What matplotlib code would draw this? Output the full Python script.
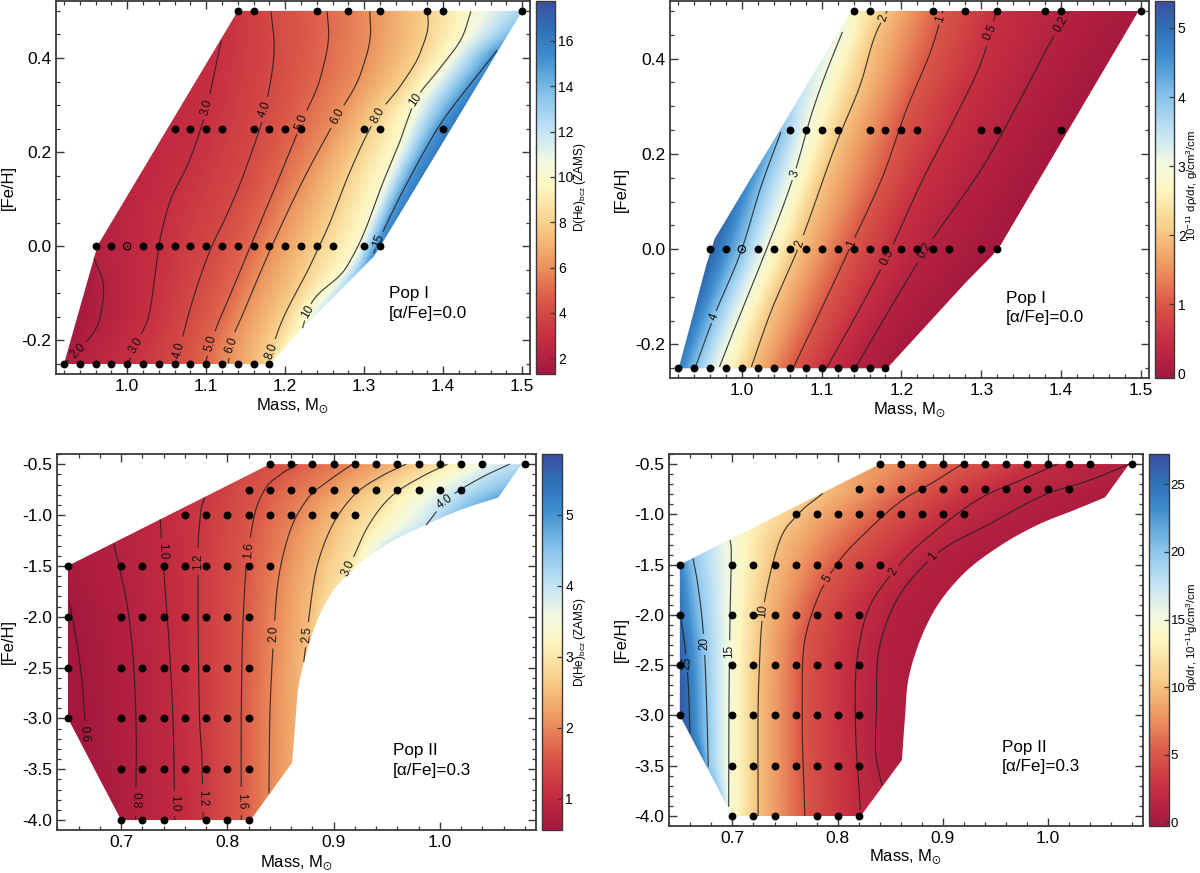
import numpy as np
import matplotlib
matplotlib.use("Agg")
import matplotlib.pyplot as plt
from matplotlib.colors import LinearSegmentedColormap, Normalize
from matplotlib.cm import ScalarMappable
from matplotlib.patches import Polygon
from matplotlib.ticker import MultipleLocator, FormatStrFormatter

plt.rcParams['font.family'] = ['Liberation Sans', 'DejaVu Sans']
plt.rcParams['mathtext.fontset'] = 'custom'
plt.rcParams['mathtext.rm'] = 'Liberation Sans'
plt.rcParams['mathtext.it'] = 'Liberation Sans:italic'
plt.rcParams['mathtext.bf'] = 'Liberation Sans:bold'
plt.rcParams['mathtext.fallback'] = 'stix'
plt.rcParams['axes.unicode_minus'] = False

W, H = 1200, 873

# ---------- sample grids (mass by [Fe/H]) ----------
POP1_GRID = {
    0.5: [1.14, 1.16, 1.24, 1.28, 1.32, 1.38, 1.40, 1.50],
    0.25: [1.06, 1.08, 1.10, 1.12, 1.16, 1.18, 1.20, 1.22, 1.30, 1.32, 1.40],
    0.0: [0.96, 0.98, 1.02, 1.04, 1.06, 1.08, 1.10, 1.12, 1.14, 1.16, 1.18, 1.20, 1.22, 1.24, 1.26, 1.30, 1.32],
    -0.25: [0.92, 0.94, 0.96, 0.98, 1.00, 1.02, 1.04, 1.06, 1.08, 1.10, 1.12, 1.14, 1.16, 1.18],
}
POP1_SUN = (1.0, 0.0)
POP2_MID = [0.70, 0.72, 0.74, 0.76, 0.78, 0.80, 0.82]
POP2_GRID = {
    -0.5: [0.84, 0.86, 0.88, 0.90, 0.92, 0.94, 0.96, 0.98, 1.00, 1.02, 1.04, 1.08],
    -0.75: [0.82, 0.84, 0.86, 0.88, 0.90, 0.92, 0.94, 0.96, 0.98, 1.00, 1.02],
    -1.0: [0.76, 0.78, 0.80, 0.82, 0.84, 0.86, 0.88, 0.90, 0.92],
    -1.5: [0.65] + POP2_MID + [0.84],
    -2.0: [0.65] + POP2_MID,
    -2.5: [0.65] + POP2_MID,
    -3.0: [0.65] + POP2_MID,
    -3.5: POP2_MID,
    -4.0: [0.70, 0.72, 0.74, 0.78, 0.80, 0.82],
}

# ---------- model domain outlines ----------
TL_EDGE_M = [0.920, 0.958, 0.963, 1.140, 1.500, 1.3215, 1.312, 1.222, 1.181]
TL_EDGE_F = [-0.25, -0.025, 0.003, 0.5, 0.5, 0.003, -0.022, -0.174, -0.25]
TR_EDGE_M = [0.921, 0.956, 0.966, 1.137, 1.497, 1.324, 1.314, 1.281, 1.182]
TR_EDGE_F = [-0.25, -0.03, 0.022, 0.5, 0.5, 0.008, -0.013, -0.069, -0.25]
BL_EDGE_M = [0.65, 0.65, 0.70, 0.822, 0.861, 0.864, 0.867, 0.8745, 0.885, 0.90, 0.918, 0.947, 0.986, 1.019, 1.055, 1.077, 0.84]
BL_EDGE_F = [-1.5, -3.0, -4.0, -4.0, -3.437, -3.05, -2.69, -2.36, -2.03, -1.74, -1.54, -1.31, -1.10, -0.952, -0.828, -0.5, -0.5]
BR_EDGE_M = [0.65, 0.65, 0.70, 0.822, 0.861, 0.864, 0.867, 0.876, 0.894, 0.92, 0.953, 0.993, 1.025, 1.054, 1.077, 0.84]
BR_EDGE_F = [-1.5, -3.0, -4.0, -4.0, -3.443, -3.012, -2.648, -2.316, -1.919, -1.587, -1.322, -1.09, -0.957, -0.831, -0.5, -0.5]

# ---------- contour curves: level -> (mass, [Fe/H]) ----------
TL_LINES = {
    2.0: ([0.958, 0.970, 0.966, 0.943, 0.921], [-0.025, -0.085, -0.149, -0.213, -0.248]),
    3.0: ([1.119, 1.111, 1.100, 1.079, 1.052, 1.040, 1.035, 1.026, 1.016, 1.001],
          [0.437, 0.374, 0.289, 0.183, 0.084, 0.0, -0.064, -0.156, -0.192, -0.248]),
    4.0: ([1.182, 1.186, 1.176, 1.154, 1.127, 1.107, 1.083, 1.067, 1.062],
          [0.499, 0.430, 0.303, 0.183, 0.070, 0.0, -0.114, -0.213, -0.248]),
    5.0: ([1.253, 1.255, 1.246, 1.222, 1.198, 1.156, 1.133, 1.106, 1.099],
          [0.499, 0.452, 0.367, 0.268, 0.169, 0.0, -0.093, -0.206, -0.248]),
    6.0: ([1.307, 1.308, 1.297, 1.266, 1.227, 1.183, 1.149, 1.132, 1.128],
          [0.499, 0.452, 0.374, 0.276, 0.155, 0.0, -0.134, -0.206, -0.248]),
    8.0: ([1.380, 1.381, 1.372, 1.348, 1.317, 1.281, 1.258, 1.233, 1.190, 1.178],
          [0.499, 0.473, 0.416, 0.346, 0.278, 0.155, 0.056, -0.036, -0.184, -0.248]),
    10.0: ([1.435, 1.426, 1.397, 1.365, 1.3445, 1.326, 1.292, 1.278, 1.228, 1.222],
           [0.499, 0.452, 0.381, 0.310, 0.220, 0.145, 0.0, -0.043, -0.139, -0.174]),
    15.0: ([1.468, 1.435, 1.397, 1.363, 1.343, 1.319, 1.312],
           [0.416, 0.346, 0.261, 0.162, 0.098, 0.013, -0.015]),
}
TR_LINES = {
    4.0: ([1.049, 1.024, 1.0, 0.965, 0.942], [0.246, 0.131, 0.0, -0.142, -0.247]),
    3.0: ([1.126, 1.110, 1.089, 1.066, 1.031, 1.0, 0.972], [0.456, 0.39, 0.292, 0.159, 0.0, -0.128, -0.247]),
    2.0: ([1.182, 1.168, 1.149, 1.12, 1.073, 1.034, 1.012], [0.5, 0.453, 0.348, 0.229, 0.012, -0.142, -0.247]),
    1.0: ([1.252, 1.24, 1.206, 1.178, 1.138, 1.101, 1.065], [0.5, 0.432, 0.292, 0.159, 0.012, -0.121, -0.247]),
    0.5: ([1.319, 1.302, 1.269, 1.226, 1.182, 1.149, 1.106], [0.5, 0.402, 0.283, 0.144, -0.016, -0.121, -0.25]),
    0.2: ([1.41, 1.393, 1.355, 1.307, 1.23, 1.192, 1.142], [0.498, 0.453, 0.334, 0.187, -0.002, -0.107, -0.25]),
}
BL_LINES = {
    0.6: ([0.651, 0.6546, 0.66, 0.6647, 0.666, 0.6635], [-1.847, -2.034, -2.362, -2.82, -3.083, -3.214]),
    0.8: ([0.6931, 0.6996, 0.7069, 0.7123, 0.7141, 0.7137], [-1.28, -1.575, -1.968, -2.558, -3.05, -4.0]),
    1.0: ([0.7368, 0.7382, 0.7404, 0.7465, 0.749, 0.7505], [-1.04, -1.247, -1.575, -2.493, -3.05, -4.0]),
    1.2: ([0.7786, 0.7743, 0.7725, 0.7725, 0.7736, 0.7765, 0.7772], [-0.828, -1.05, -1.378, -2.0, -2.886, -3.54, -4.0]),
    1.6: ([0.8662, 0.8493, 0.8349, 0.8259, 0.8204, 0.8179, 0.815, 0.8132, 0.8132],
          [-0.5, -0.608, -0.756, -0.985, -1.313, -1.51, -2.0, -2.886, -4.0]),
    2.0: ([0.9178, 0.8962, 0.8745, 0.8583, 0.8475, 0.8439, 0.8403, 0.8392],
          [-0.5, -0.657, -0.854, -1.18, -1.673, -2.165, -2.886, -3.738]),
    2.5: ([0.9683, 0.9467, 0.9178, 0.8998, 0.8836, 0.8781, 0.8745, 0.872],
          [-0.5, -0.608, -0.821, -1.083, -1.542, -1.903, -2.23, -2.444]),
    3.0: ([1.0072, 0.9827, 0.9539, 0.9322, 0.9196, 0.9106], [-0.5, -0.625, -0.821, -1.116, -1.395, -1.59]),
    4.0: ([1.0657, 1.0404, 1.008, 0.987], [-0.5, -0.625, -0.838, -1.1]),
}
BR_LINES = {
    25.0: ([0.6512, 0.6549, 0.6578, 0.6596], [-2.05, -2.316, -2.648, -3.178]),
    20.0: ([0.6625, 0.6669, 0.673, 0.676, 0.677], [-1.438, -1.687, -2.283, -3.079, -3.51]),
    15.0: ([0.6978, 0.6989, 0.6978, 0.6967, 0.6964], [-1.256, -1.388, -1.985, -2.913, -3.907]),
    10.0: ([0.7859, 0.7633, 0.7451, 0.736, 0.7288, 0.7251, 0.7244], [-0.792, -0.99, -1.256, -1.587, -1.985, -2.648, -4.0]),
    5.0: ([0.9181, 0.8944, 0.8616, 0.8289, 0.7997, 0.7815, 0.7688, 0.7663, 0.7688],
          [-0.5, -0.659, -0.858, -1.156, -1.488, -1.819, -2.25, -2.913, -4.0]),
    2.0: ([1.0091, 0.9745, 0.9381, 0.9017, 0.8544, 0.8289, 0.8187, 0.8169, 0.8216],
          [-0.5, -0.659, -0.825, -1.09, -1.554, -1.952, -2.416, -3.079, -3.94]),
    1.0: ([1.0771, 1.04, 1.0, 0.9454, 0.8908, 0.8544, 0.8398, 0.8369, 0.8369, 0.842],
          [-0.5, -0.659, -0.792, -1.09, -1.421, -1.885, -2.316, -2.913, -3.443, -3.692]),
}

# ---------- colour-only estimates outside the drawn lines ----------
TL_EXTRA = {
    1.35: ([0.905, 0.925, 0.945, 0.945], [-0.25, -0.15, -0.03, 0.5]),
    10.0: ([1.19], [-0.25]),
    15.0: ([1.55, 1.29, 1.24], [0.5, -0.1, -0.25]),
    17.5: ([1.31, 1.345, 1.43, 1.49, 1.60], [-0.25, 0.0, 0.25, 0.4, 0.5]),
}
TR_EXTRA = {
    5.35: ([0.905, 0.955, 1.01, 1.06], [-0.25, 0.0, 0.25, 0.5]),
    -0.05: ([1.2, 1.33, 1.42, 1.52], [-0.25, 0.0, 0.25, 0.5]),
}
BL_EXTRA = {
    0.55: ([0.60, 0.645, 0.67], [-1.5, -3.0, -4.0]),
    0.6: ([0.625, 0.68], [-1.5, -4.0]),
    2.0: ([0.838], [-4.0]),
    2.5: ([0.875, 0.872], [-3.0, -4.0]),
    3.0: ([0.895, 0.89, 0.88], [-2.0, -3.0, -4.0]),
    4.0: ([0.95, 0.92], [-1.3, -4.0]),
    5.5: ([1.2, 1.09, 1.03, 1.0], [-0.5, -0.83, -1.1, -4.0]),
}
BR_EXTRA = {
    27.2: ([0.64, 0.647, 0.665, 0.685], [-1.5, -3.0, -3.5, -4.0]),
    25.0: ([0.645, 0.69], [-1.5, -4.0]),
    20.0: ([0.695], [-4.0]),
    2.0: ([0.825], [-4.0]),
    1.0: ([0.85], [-4.0]),
    0.0: ([1.12, 1.10, 1.0, 0.93, 0.90, 0.88], [-0.5, -0.83, -1.3, -2.0, -3.0, -4.0]),
}

# ---------- inline contour labels: (text, level, mass, [Fe/H], rotation) ----------
TL_LABELS = [
    ('2.0', 2.0, 0.937, -0.221, 45), ('3.0', 3.0, 1.099, 0.296, 75), ('3.0', 3.0, 1.014, -0.214, 60),
    ('4.0', 4.0, 1.172, 0.293, 70), ('4.0', 4.0, 1.066, -0.22, 75), ('5.0', 5.0, 1.221, 0.264, 70),
    ('5.0', 5.0, 1.106, -0.206, 75), ('6.0', 6.0, 1.266, 0.276, 62), ('6.0', 6.0, 1.133, -0.211, 70),
    ('8.0', 8.0, 1.317, 0.277, 60), ('8.0', 8.0, 1.175, -0.22, 70), ('10', 10.0, 1.365, 0.31, 55),
    ('10', 10.0, 1.228, -0.139, 60), ('15', 15.0, 1.315, 0.015, 70),
]
TR_LABELS = [
    ('2', 2.0, 1.177, 0.486, 72), ('1', 1.0, 1.249, 0.483, 72), ('0.5', 0.5, 1.31, 0.454, 65),
    ('0.2', 0.2, 1.401, 0.47, 60), ('3', 3.0, 1.066, 0.157, 68), ('4', 4.0, 0.965, -0.143, 68),
    ('2', 2.0, 1.073, 0.012, 70), ('1', 1.0, 1.138, 0.015, 68), ('0.5', 0.5, 1.182, -0.016, 65),
    ('0.2', 0.2, 1.229, -0.001, 60),
]
BL_LABELS = [
    ('0.6', 0.6, 0.6647, -3.148, -85), ('0.8', 0.8, 0.7141, -3.814, -90), ('1.0', 1.0, 0.7393, -1.362, -88),
    ('1.0', 1.0, 0.7508, -3.853, -88), ('1.2', 1.2, 0.771, -1.467, 90), ('1.2', 1.2, 0.7772, -3.787, -88),
    ('1.6', 1.6, 0.8204, -1.355, 85), ('1.6', 1.6, 0.814, -3.82, -88), ('2.0', 2.0, 0.8446, -2.158, 88),
    ('2.5', 2.5, 0.8745, -2.175, 85), ('3.0', 3.0, 0.9149, -1.532, 65), ('4.0', 4.0, 1.0062, -0.877, 35),
]
BR_LABELS = [
    ('25', 25.0, 0.657, -2.489, 85), ('20', 20.0, 0.6734, -2.277, 90), ('15', 15.0, 0.6971, -2.35, 90),
    ('10', 10.0, 0.7298, -1.968, 85), ('5', 5.0, 0.7888, -1.637, 60), ('2', 2.0, 0.8522, -1.571, 60),
    ('1', 1.0, 0.8918, -1.431, 50),
]

# ---------- colours ----------
CMAP_POS = [0, .1, .2, .3, .4, .5, .57, .65, .75, .85, .93, 1]
CMAP_HEX = ['#a5173e', '#c62f42', '#dc5a48', '#ee9a62', '#f8cf8b', '#fef6c0',
            '#f2f9e2', '#c4e4f5', '#86c2ea', '#3f8ecf', '#2f6fb5', '#3c4f9f']
CMAP = LinearSegmentedColormap.from_list('he', list(zip(CMAP_POS, CMAP_HEX)))
DARK = '#3a3a3a'


def px_axes(fig, left, top, right, bottom):
    return fig.add_axes([left / W, 1 - bottom / H, (right - left) / W, (bottom - top) / H])


def build_field(lines, extra, mg, fg, ascending):
    curves = {}
    for lev, (m, f) in lines.items():
        curves[lev] = (list(m), list(f))
    for lev, (m, f) in extra.items():
        if lev in curves:
            curves[lev] = (curves[lev][0] + list(m), curves[lev][1] + list(f))
        else:
            curves[lev] = (list(m), list(f))
    levs = sorted(curves, reverse=not ascending)
    rows = []
    for lev in levs:
        m, f = np.array(curves[lev][0], float), np.array(curves[lev][1], float)
        o = np.argsort(f)
        rows.append(np.interp(fg, f[o], m[o]))
    rows = np.maximum.accumulate(np.array(rows), axis=0)
    rows += 1e-6 * np.arange(len(levs))[:, None]
    z = np.empty((len(fg), len(mg)))
    for i in range(len(fg)):
        z[i] = np.interp(mg, rows[:, i], levs)
    # soften the row-wise interpolation so colour bands stay smooth in [Fe/H]
    k = np.hanning(31)
    k /= k.sum()
    pad = len(k) // 2
    zp = np.pad(z, ((pad, pad), (0, 0)), mode='edge')
    return np.apply_along_axis(lambda c: np.convolve(c, k, mode='valid'), 0, zp)


def smooth(m, f, n=24):
    p = np.column_stack([m, f]).astype(float)
    if len(p) < 3:
        return p[:, 0], p[:, 1]
    scale = np.ptp(p, axis=0) + 1e-9
    t = np.r_[0, np.cumsum(np.hypot(*(np.diff(p, axis=0) / scale).T))]
    d = np.gradient(p, t, axis=0)
    out = []
    for i in range(len(p) - 1):
        u = np.linspace(0, 1, n, endpoint=False)[:, None]
        h = t[i + 1] - t[i]
        out.append((2*u**3 - 3*u**2 + 1) * p[i] + (u**3 - 2*u**2 + u) * h * d[i]
                   + (-2*u**3 + 3*u**2) * p[i + 1] + (u**3 - u**2) * h * d[i + 1])
    out.append(p[-1:])
    s = np.vstack(out)
    return s[:, 0], s[:, 1]


def panel(fig, box, cbox, xlim, ylim, yminor, edge, curved, lines, extra, labels,
          grid, sun, ascending, vlim, cticks, xticks, yticks, ylabel_x, xlabel_y, cb_label, cb_xy, text_xy,
          text_lines, cb_tick=(10, 2.5), cb_font=8.5):
    ax = px_axes(fig, *box)
    ax.set_xlim(*xlim)
    ax.set_ylim(*ylim)
    mg = np.linspace(xlim[0], xlim[1], 900)
    fg = np.linspace(ylim[0], ylim[1], 700)
    z = build_field(lines, extra, mg, fg, ascending)
    norm = Normalize(*vlim)
    im = ax.imshow(z, origin='lower', extent=[xlim[0], xlim[1], ylim[0], ylim[1]], aspect='auto',
                   cmap=CMAP, norm=norm, interpolation='bilinear', zorder=1)
    em, ef = list(edge[0]), list(edge[1])
    if curved is not None:
        a, b = curved
        sm, sf = smooth(em[a:b], ef[a:b])
        em = em[:a] + list(sm) + em[b:]
        ef = ef[:a] + list(sf) + ef[b:]
    im.set_clip_path(Polygon(np.column_stack([em, ef]), closed=True, transform=ax.transData))

    by_level = {}
    for t, lev, lm, lf, rot in labels:
        by_level.setdefault(lev, []).append((t, lm, lf, rot))
    for lev, (m, f) in lines.items():
        sm, sf = smooth(m, f)
        xy = ax.transData.transform(np.column_stack([sm, sf]))
        keep = np.ones(len(sm), bool)
        for t, lm, lf, rot in by_level.get(lev, []):
            c = ax.transData.transform((lm, lf))
            i = np.argmin(np.hypot(*(xy - c).T))
            gap = 3.6 * len(t) + 1.5
            keep &= np.hypot(*(xy - xy[i]).T) > gap
            ax.text(sm[i], sf[i], t, fontsize=8.5, rotation=rot, rotation_mode='anchor', ha='center',
                    va='center', color='#111111', zorder=4, clip_on=True)
        ax.plot(np.where(keep, sm, np.nan), np.where(keep, sf, np.nan), color='#222222', lw=0.85,
                alpha=0.85, zorder=3, solid_capstyle='butt')

    for feh, masses in grid.items():
        ax.scatter(masses, [feh] * len(masses), s=32, color='black', linewidths=0, zorder=5, clip_on=False)
    if sun is not None:
        ax.scatter([sun[0]], [sun[1]], s=28, facecolors='none', edgecolors='black', linewidths=0.8, zorder=5)
        ax.scatter([sun[0]], [sun[1]], s=2.5, color='black', linewidths=0, zorder=5)

    ax.set_xticks(xticks)
    ax.set_yticks(yticks)
    ax.xaxis.set_major_formatter(FormatStrFormatter('%.1f'))
    ax.yaxis.set_major_formatter(FormatStrFormatter('%.1f'))
    ax.xaxis.set_minor_locator(MultipleLocator(0.02))
    ax.yaxis.set_minor_locator(MultipleLocator(yminor))
    ax.tick_params(which='both', direction='in', top=True, right=True, color=DARK)
    ax.tick_params(which='major', length=6, width=1.0, labelsize=12.5, pad=3.5)
    ax.tick_params(which='minor', length=3, width=0.9)
    for s in ax.spines.values():
        s.set_linewidth(1.3)
        s.set_color(DARK)

    left, top, right, bottom = box
    fig.text((left + right) / 2 / W, 1 - xlabel_y / H, r'Mass, M$_{\odot}$', fontsize=12, ha='center', va='center')
    fig.text(ylabel_x / W, 1 - (top + bottom) / 2 / H, '[Fe/H]', fontsize=12, rotation=90, ha='center', va='center')

    cax = px_axes(fig, *cbox)
    cb = fig.colorbar(ScalarMappable(norm, CMAP), cax=cax)
    cb.set_ticks(cticks)
    cb.set_ticklabels([str(c) for c in cticks])
    cb.minorticks_off()
    cax.tick_params(direction='in', length=3.5, width=0.9, labelsize=cb_tick[0], pad=cb_tick[1], color=DARK)
    cb.outline.set_linewidth(1.0)
    cb.outline.set_edgecolor(DARK)
    fig.text(cb_xy[0] / W, 1 - cb_xy[1] / H, cb_label, fontsize=cb_font, rotation=90, ha='center', va='center')

    for (x, y), s in zip(text_xy, text_lines):
        fig.text(x / W, 1 - y / H, s, fontsize=12.3, ha='left', va='baseline')


fig = plt.figure(figsize=(W / 100, H / 100), dpi=100)

panel(fig, (56.3, 1, 529.9, 373.7), (535.6, 1, 554.8, 373.7), (0.9103, 1.5097), (-0.2706, 0.521), 0.05,
      (TL_EDGE_M, TL_EDGE_F), None, TL_LINES, TL_EXTRA, TL_LABELS, POP1_GRID, POP1_SUN, True, (1.32, 17.76),
      list(range(2, 17, 2)), [1.0, 1.1, 1.2, 1.3, 1.4, 1.5], [-0.2, 0.0, 0.2, 0.4], 8.5, 406,
      r'D(He)$_{\rm bcz}$ (ZAMS)', (580, 187), [(389, 298), (389, 318)], ['Pop I', '[α/Fe]=0.0'])

panel(fig, (670.2, 1, 1149, 377.7), (1155, 1, 1174.3, 377.7), (0.9103, 1.5101), (-0.2697, 0.521), 0.05,
      (TR_EDGE_M, TR_EDGE_F), None, TR_LINES, TR_EXTRA, TR_LABELS, POP1_GRID, POP1_SUN, False, (-0.06, 5.39),
      [0, 1, 2, 3, 4, 5], [1.0, 1.1, 1.2, 1.3, 1.4, 1.5], [-0.2, 0.0, 0.2, 0.4], 621, 410,
      r'10$^{-11}$ dρ/dr, g/cm$^3$/cm', (1192.5, 185), [(1006, 303), (1006, 322)], ['Pop I', '[α/Fe]=0.0'],
      cb_font=8.2)

panel(fig, (57.1, 454, 535.6, 830), (542.1, 454, 561.7, 830), (0.6398, 1.0902), (-4.098, -0.4), 0.1,
      (BL_EDGE_M, BL_EDGE_F), (4, 15), BL_LINES, BL_EXTRA, BL_LABELS, POP2_GRID, None, True, (0.558, 5.86),
      [1, 2, 3, 4, 5], [0.7, 0.8, 0.9, 1.0], [-4.0, -3.5, -3.0, -2.5, -2.0, -1.5, -1.0, -0.5], 8.5, 863,
      r'D(He)$_{\rm bcz}$ (ZAMS)', (580, 642), [(393, 755), (393, 775)], ['Pop II', '[α/Fe]=0.3'])

panel(fig, (669.3, 454, 1142.9, 826), (1149, 454, 1168.6, 826), (0.64, 1.09), (-4.0994, -0.4), 0.1,
      (BR_EDGE_M, BR_EDGE_F), (4, 14), BR_LINES, BR_EXTRA, BR_LABELS, POP2_GRID, None, False, (-0.27, 27.24),
      [0, 5, 10, 15, 20, 25], [0.7, 0.8, 0.9, 1.0], [-4.0, -3.5, -3.0, -2.5, -2.0, -1.5, -1.0, -0.5], 621, 857,
      r'dρ/dr, 10$^{-11}$g/cm$^3$/cm', (1192.5, 637), [(1001.5, 752), (1001.5, 771)], ['Pop II', '[α/Fe]=0.3'],
      cb_tick=(9.5, 1.5), cb_font=8.2)

fig.savefig('out.png', dpi=100)
